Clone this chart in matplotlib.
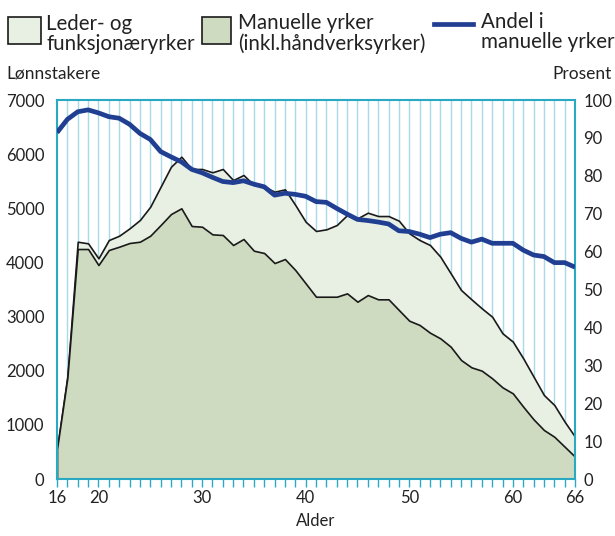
import numpy as np
import matplotlib.pyplot as plt
from matplotlib.lines import Line2D
from matplotlib.patches import Rectangle

plt.rcParams['font.family'] = ['Lato', 'DejaVu Sans']

ages = list(range(16, 67))
# Lønnstakere i alt (leder/funksjonær + manuelle)
total = [556, 1900, 4383, 4353, 4076, 4414, 4494, 4630, 4784, 5030,
         5399, 5768, 5953, 5726, 5726, 5665, 5726, 5522, 5615, 5430,
         5399, 5307, 5350, 5061, 4752, 4581, 4612, 4691, 4876, 4815,
         4919, 4857, 4857, 4771, 4538, 4414, 4322, 4106, 3799, 3491,
         3319, 3153, 2998, 2691, 2537, 2229, 1890, 1551, 1367, 1058, 781]
manual = [556, 1870, 4248, 4248, 3952, 4230, 4291, 4359, 4383, 4494,
          4691, 4894, 5000, 4673, 4660, 4519, 4507, 4322, 4433, 4217,
          4174, 3989, 4063, 3860, 3614, 3367, 3367, 3367, 3429, 3275,
          3398, 3319, 3319, 3121, 2924, 2845, 2703, 2598, 2444, 2198,
          2063, 2001, 1860, 1693, 1582, 1336, 1102, 905, 781, 597, 412]
share = [91.4, 94.9, 96.9, 97.4, 96.6, 95.6, 95.2, 93.6, 91.2, 89.6,
         86.4, 85.0, 83.7, 81.7, 80.8, 79.6, 78.5, 78.2, 78.7, 77.8,
         77.1, 74.9, 75.4, 75.1, 74.6, 73.2, 73.0, 71.4, 69.9, 68.5,
         68.2, 67.8, 67.3, 65.5, 65.3, 64.6, 63.7, 64.6, 65.0, 63.5,
         62.5, 63.3, 62.2, 62.2, 62.2, 60.4, 59.1, 58.7, 57.1, 57.1, 55.9]

light_col = '#e8efe3'
manual_col = '#cfdbc0'
line_col = '#213f92'
axis_col = '#2aaac2'
grid_col = '#a8dbe7'
text_col = '#222222'

fig = plt.figure(figsize=(6.15, 5.36), dpi=100)
ax = fig.add_axes([0.0927, 0.1063, 0.8423, 0.7071])

for a in ages[1:-1]:
    ax.axvline(a, color=grid_col, lw=1.0, zorder=0)

ax.fill_between(ages, 0, total, facecolor=light_col, edgecolor='#1a1a1a', lw=1.2, zorder=1)
ax.fill_between(ages, 0, manual, facecolor=manual_col, edgecolor='#1a1a1a', lw=1.2, zorder=1.1)

ax.set_xlim(16, 66)
ax.set_ylim(0, 7000)
ax.set_yticks(range(0, 7001, 1000))
ax.set_xticks([16, 20, 30, 40, 50, 60, 66])
ax.set_xticks(ages, minor=True)
ax.tick_params(axis='x', which='both', direction='out', length=6, width=1, color=axis_col,
               labelsize=12, labelcolor=text_col, pad=2)
ax.tick_params(axis='y', length=0, labelsize=12, labelcolor=text_col, pad=9)
for s in ax.spines.values():
    s.set_color(axis_col)
    s.set_linewidth(1.5)
    s.set_zorder(3)
ax.set_xlabel('Alder', fontsize=12, color=text_col, labelpad=5)

ax2 = ax.twinx()
ax2.plot(ages, share, color=line_col, lw=3.4, solid_joinstyle='round', solid_capstyle='butt')
ax2.set_ylim(0, 100)
ax2.set_yticks(range(0, 101, 10))
ax2.tick_params(axis='y', length=0, labelsize=12, labelcolor=text_col, pad=6)
for s in ax2.spines.values():
    s.set_visible(False)

fig.text(0.011, 0.862, 'Lønnstakere', fontsize=12.5, color=text_col, va='center', ha='left')
fig.text(0.994, 0.862, 'Prosent', fontsize=12.5, color=text_col, va='center', ha='right')

# legend (hand placed, like the original)
fig.patches.append(Rectangle((0.013, 0.918), 0.0537, 0.0504, transform=fig.transFigure,
                             facecolor=light_col, edgecolor='#1a1a1a', lw=1.2))
fig.text(0.0756, 0.9067, 'Leder- og\nfunksjonæryrker', fontsize=14.8, color=text_col,
         va='baseline', ha='left', linespacing=1.0)
fig.patches.append(Rectangle((0.3285, 0.918), 0.0472, 0.0504, transform=fig.transFigure,
                             facecolor=manual_col, edgecolor='#1a1a1a', lw=1.2))
fig.text(0.387, 0.9067, 'Manuelle yrker\n(inkl.håndverksyrker)', fontsize=14.8, color=text_col,
         va='baseline', ha='left', linespacing=1.0)
fig.lines.append(Line2D([0.7057, 0.769], [0.955, 0.955], transform=fig.transFigure,
                        color=line_col, lw=3.4))
fig.text(0.782, 0.9104, 'Andel i\nmanuelle yrker', fontsize=14.8, color=text_col,
         va='baseline', ha='left', linespacing=1.0)

fig.savefig('out.png', dpi=100)
